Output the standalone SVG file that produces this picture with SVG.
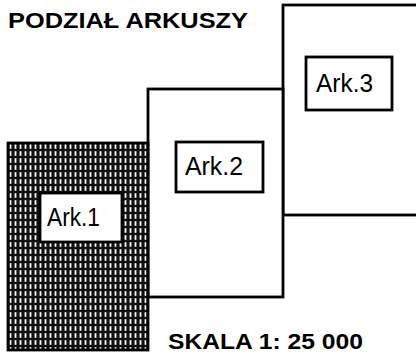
<svg xmlns="http://www.w3.org/2000/svg" width="416" height="354" viewBox="0 0 416 354">
<style>
.sheet{stroke:#000;stroke-width:2.8;}
.lbl{fill:#fff;stroke:#000;stroke-width:2.8;}
.t{font-family:"Liberation Sans",Arial,sans-serif;font-size:26px;fill:#000;}
.h{font-family:"Liberation Sans",Arial,sans-serif;font-weight:bold;font-size:22px;fill:#000;}
</style>
<defs>
<pattern id="hatch" x="8" y="143" width="5" height="7" patternUnits="userSpaceOnUse">
<rect width="5" height="7" fill="#111"/>
<rect x="1.6" y="1.2" width="1.8" height="4.6" fill="#fff"/>
</pattern>
</defs>
<text class="h" x="8" y="28" textLength="240" lengthAdjust="spacingAndGlyphs">PODZIAŁ ARKUSZY</text>
<g id="ark3">
<rect class="sheet" x="283" y="5" width="140" height="210" fill="#fff"/>
<rect class="lbl" x="306" y="57" width="86" height="53"/>
<text class="t" x="316" y="92" textLength="57" lengthAdjust="spacingAndGlyphs">Ark.3</text>
</g>
<g id="ark2">
<rect class="sheet" x="148" y="89" width="135" height="208" fill="#fff"/>
<rect class="lbl" x="176" y="142" width="87" height="50"/>
<text class="t" x="185" y="175" textLength="58" lengthAdjust="spacingAndGlyphs">Ark.2</text>
</g>
<g id="ark1">
<rect class="sheet" x="8" y="143" width="140" height="207" fill="url(#hatch)"/>
<rect class="lbl" x="40" y="193" width="82" height="49"/>
<text class="t" x="47" y="226" textLength="53" lengthAdjust="spacingAndGlyphs">Ark.1</text>
</g>
<g id="connectors"></g>
<text class="h" x="168" y="349" textLength="195" lengthAdjust="spacingAndGlyphs">SKALA 1: 25 000</text>
</svg>
